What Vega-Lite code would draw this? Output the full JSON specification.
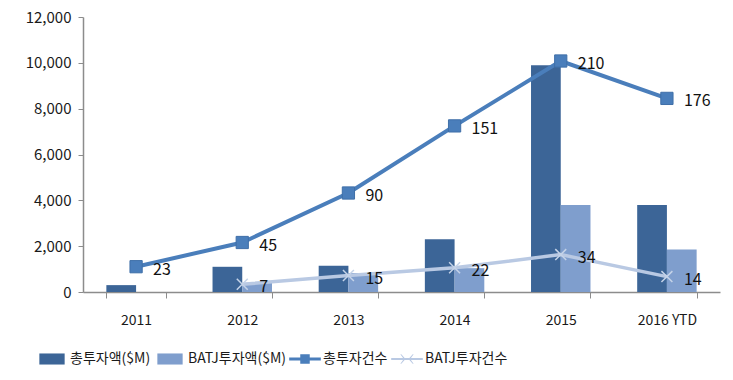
{
  "$schema": "https://vega.github.io/schema/vega-lite/v6.json",
  "width": 637,
  "height": 275,
  "autosize": {"type": "none"},
  "padding": {"left": 83, "top": 17, "right": 13, "bottom": 88},
  "background": "white",
  "config": {
    "view": {"stroke": null},
    "font": "Noto Sans CJK KR",
    "axis": {"labelFont": "Noto Sans CJK KR", "labelColor": "#1a1a1a", "domainColor": "#8c8c8c", "tickColor": "#8c8c8c"}
  },
  "datasets": {
    "amounts": [
      {"year": "2011", "series": "총투자액($M)", "value": 300},
      {"year": "2012", "series": "총투자액($M)", "value": 1100},
      {"year": "2013", "series": "총투자액($M)", "value": 1150},
      {"year": "2014", "series": "총투자액($M)", "value": 2300},
      {"year": "2015", "series": "총투자액($M)", "value": 9900},
      {"year": "2016 YTD", "series": "총투자액($M)", "value": 3800},
      {"year": "2011", "series": "BATJ투자액($M)", "value": 0},
      {"year": "2012", "series": "BATJ투자액($M)", "value": 400},
      {"year": "2013", "series": "BATJ투자액($M)", "value": 830},
      {"year": "2014", "series": "BATJ투자액($M)", "value": 1040},
      {"year": "2015", "series": "BATJ투자액($M)", "value": 3800},
      {"year": "2016 YTD", "series": "BATJ투자액($M)", "value": 1850}
    ],
    "counts": [
      {"year": "2011", "series": "총투자건수", "count": 23},
      {"year": "2012", "series": "총투자건수", "count": 45},
      {"year": "2013", "series": "총투자건수", "count": 90},
      {"year": "2014", "series": "총투자건수", "count": 151},
      {"year": "2015", "series": "총투자건수", "count": 210},
      {"year": "2016 YTD", "series": "총투자건수", "count": 176},
      {"year": "2012", "series": "BATJ투자건수", "count": 7},
      {"year": "2013", "series": "BATJ투자건수", "count": 15},
      {"year": "2014", "series": "BATJ투자건수", "count": 22},
      {"year": "2015", "series": "BATJ투자건수", "count": 34},
      {"year": "2016 YTD", "series": "BATJ투자건수", "count": 14}
    ]
  },
  "resolve": {"scale": {"y": "independent"}},
  "layer": [
    {
      "data": {"name": "amounts"},
      "mark": {"type": "bar"},
      "encoding": {
        "x": {
          "field": "year", "type": "nominal", "title": null,
          "sort": ["2011", "2012", "2013", "2014", "2015", "2016 YTD"],
          "scale": {"paddingInner": 0.44, "paddingOuter": 0.22},
          "axis": {"labelAngle": 0, "labelFontSize": 14, "labelPadding": 15, "tickBand": "extent", "tickSize": 6, "domainWidth": 1.5}
        },
        "xOffset": {"field": "series", "type": "nominal", "sort": ["총투자액($M)", "BATJ투자액($M)"]},
        "y": {
          "field": "value", "type": "quantitative", "title": null,
          "scale": {"domain": [0, 12000]},
          "axis": {"values": [0, 2000, 4000, 6000, 8000, 10000, 12000], "format": ",.0f", "labelFontSize": 15, "tickSize": 5, "labelPadding": 7, "grid": false, "domainWidth": 1.5}
        },
        "color": {
          "field": "series", "type": "nominal",
          "scale": {
            "domain": ["총투자액($M)", "BATJ투자액($M)", "총투자건수", "BATJ투자건수"],
            "range": ["#3C6597", "#7F9ECD", "#4A7EBB", "#B9C9E3"]
          },
          "legend": {
            "orient": "none", "direction": "horizontal", "title": null,
            "legendX": -47, "legendY": 326,
            "labelFontSize": 14, "labelColor": "#1a1a1a", "labelOffset": 2, "columnPadding": 3,
            "symbolSize": 1000, "symbolStrokeWidth": 0,
            "encode": {
              "symbols": {
                "update": {
                  "shape": {"signal": "datum.value == '총투자건수' ? 'M-1,-0.1H-0.3V-0.3H0.3V-0.1H1V0.1H0.3V0.3H-0.3V0.1H-1Z' : datum.value == 'BATJ투자건수' ? 'M-1,-0.06H-0.25L-0.42,-0.3L-0.36,-0.3L-0.15,-0.06H0.15L0.36,-0.3L0.42,-0.3L0.25,-0.06H1V0.06H0.25L0.42,0.3L0.36,0.3L0.15,0.06H-0.15L-0.36,0.3L-0.42,0.3L-0.25,0.06H-1Z' : 'M-0.8,-0.35H0.8V0.35H-0.8Z'"},
                  "fillOpacity": {"value": 1},
                  "strokeWidth": {"value": 0}
                }
              }
            }
          }
        }
      }
    },
    {
      "data": {"name": "counts"},
      "layer": [
        {
          "transform": [{"filter": "datum.series == 'BATJ투자건수'"}],
          "mark": {"type": "line", "strokeWidth": 3.5, "color": "#B9C9E3"},
          "encoding": {
            "x": {"field": "year", "type": "nominal", "sort": ["2011", "2012", "2013", "2014", "2015", "2016 YTD"]},
            "y": {"field": "count", "type": "quantitative", "scale": {"domain": [0, 250]}, "axis": null}
          }
        },
        {
          "transform": [{"filter": "datum.series == 'BATJ투자건수'"}],
          "mark": {"type": "point", "shape": "M-1,-1L1,1M-1,1L1,-1", "filled": false, "size": 120, "strokeWidth": 1.5, "color": "#C5D3E8", "opacity": 1},
          "encoding": {
            "x": {"field": "year", "type": "nominal", "sort": ["2011", "2012", "2013", "2014", "2015", "2016 YTD"]},
            "y": {"field": "count", "type": "quantitative", "scale": {"domain": [0, 250]}, "axis": null}
          }
        },
        {
          "transform": [{"filter": "datum.series == '총투자건수'"}],
          "mark": {"type": "line", "strokeWidth": 4, "color": "#4A7EBB"},
          "encoding": {
            "x": {"field": "year", "type": "nominal", "sort": ["2011", "2012", "2013", "2014", "2015", "2016 YTD"]},
            "y": {"field": "count", "type": "quantitative", "scale": {"domain": [0, 250]}, "axis": null}
          }
        },
        {
          "transform": [{"filter": "datum.series == '총투자건수'"}],
          "mark": {"type": "point", "shape": "square", "filled": true, "size": 150, "color": "#4A7EBB", "stroke": "#3F6FA8", "strokeWidth": 1, "opacity": 1},
          "encoding": {
            "x": {"field": "year", "type": "nominal", "sort": ["2011", "2012", "2013", "2014", "2015", "2016 YTD"]},
            "y": {"field": "count", "type": "quantitative", "scale": {"domain": [0, 250]}, "axis": null}
          }
        },
        {
          "mark": {"type": "text", "align": "left", "baseline": "middle", "dx": 17, "dy": 3, "fontSize": 16, "color": "#111111", "font": "Noto Sans CJK KR"},
          "encoding": {
            "x": {"field": "year", "type": "nominal", "sort": ["2011", "2012", "2013", "2014", "2015", "2016 YTD"]},
            "y": {"field": "count", "type": "quantitative", "scale": {"domain": [0, 250]}, "axis": null},
            "text": {"field": "count", "type": "quantitative"}
          }
        }
      ]
    }
  ]
}
